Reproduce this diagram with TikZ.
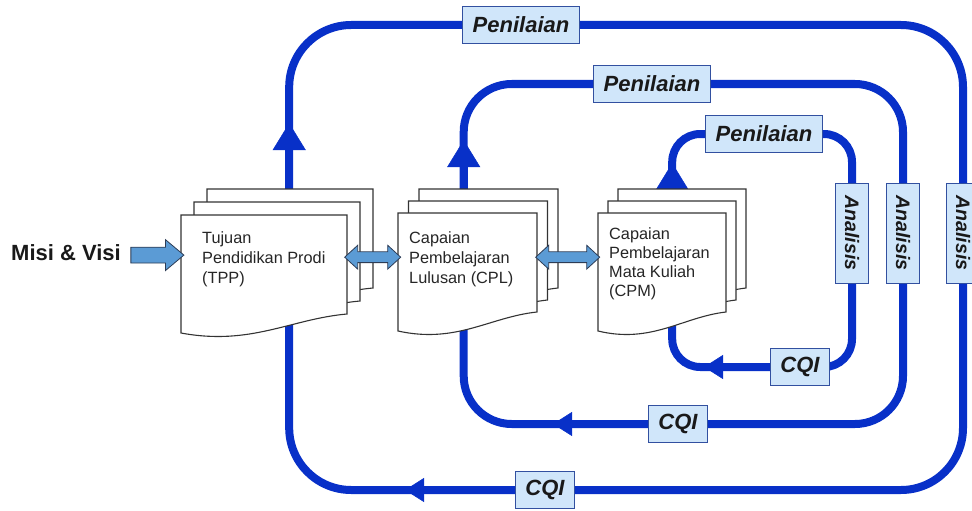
\documentclass[tikz,border=0pt]{standalone}
\usepackage{fontspec}
\setsansfont{Liberation Sans}
\usetikzlibrary{arrows.meta}
\usetikzlibrary{shapes.arrows}
\usetikzlibrary{backgrounds}
\usetikzlibrary{calc}
\definecolor{loopblue}{RGB}{8,48,200}
\definecolor{tagfill}{RGB}{208,230,250}
\definecolor{tagborder}{RGB}{50,80,160}
\definecolor{arrowfill}{RGB}{91,155,213}
\definecolor{arrowline}{RGB}{45,60,85}

\begin{document}
\begin{tikzpicture}[x=1pt,y=-1pt]
\tikzset{
  docline/.style={draw=black!80,line width=1.1pt,fill=white},
  pics/docpage/.style={code={\draw[docline] (0,0) -- (#1,0) -- (#1,99) .. controls ({0.66*#1},104) and ({0.42*#1},131) .. (0,118) -- cycle;}},
  docarea/.style={inner sep=0pt,anchor=north west},
  doctext/.style={anchor=north west,align=left,inner xsep=11pt,inner ysep=16pt,text=black!85,font=\sffamily\fontsize{16.3}{20}\selectfont},
  tag/.style={draw=tagborder,fill=tagfill,line width=1pt,inner xsep=10pt,inner ysep=0pt,minimum height=37pt,text=black!90,font=\sffamily\bfseries\itshape\fontsize{22}{26}\selectfont},
  sidetag/.style={tag,rotate=-90,minimum width=100pt,minimum height=33pt,inner xsep=0pt,font=\sffamily\bfseries\itshape\fontsize{19.5}{22}\selectfont},
  loopline/.style={draw=loopblue,line width=8pt},
  tipup/.style={-{Triangle[length=27pt,width=33pt,line width=0.5pt]}},
  tipleft/.style={-{Triangle[length=19pt,width=24pt,line width=0.5pt]}},
  blockarrow/.style={single arrow,draw=arrowline,fill=arrowfill,line width=0.8pt,inner xsep=0pt,inner ysep=7.5pt,single arrow head extend=7.5pt,single arrow tip angle=80,minimum height=53pt},
  linkarrow/.style={double arrow,draw=arrowline,fill=arrowfill,line width=0.8pt,inner xsep=0pt,inner ysep=5pt,double arrow head extend=6.5pt,double arrow tip angle=85}
}
\useasboundingbox (0,0) rectangle (972,511);

% documents
\foreach \o in {2,1,0}
  \pic at ({181+13*\o},{215-13*\o}) {docpage=166};
\node[docarea,minimum width=166pt,minimum height=84pt] (tpp) at (181,215) {};
\node[doctext,xshift=10pt] (tpptext) at (tpp.north west) {Tujuan\\Pendidikan Prodi\\(TPP)};

\foreach \o in {2,1,0}
  \pic at ({398+10.5*\o},{213-12*\o}) {docpage=139};
\node[docarea,minimum width=139pt,minimum height=88pt] (cpl) at (398,213) {};
\node[doctext,inner ysep=18pt] (cpltext) at (cpl.north west) {Capaian\\Pembelajaran\\Lulusan (CPL)};

\foreach \o in {2,1,0}
  \pic at ({598+10*\o},{213-12*\o}) {docpage=128};
\node[docarea,minimum width=128pt,minimum height=88pt] (cpm) at (598,213) {};
\node[doctext,inner ysep=14pt,font=\sffamily\fontsize{16.3}{19}\selectfont] (cpmtext) at (cpm.north west) {Capaian\\Pembelajaran\\Mata Kuliah\\(CPM)};

% input and links
\node[font=\sffamily\bfseries\fontsize{22}{26}\selectfont,text=black!90] (misi) at (66,253) {Misi \& Visi};
\node[blockarrow] (misiarrow) at ($(misi.east)!0.5!(tpp.west)$) {};
\node[linkarrow,minimum height=56pt] (tppcpl) at ($(tpp.east)!0.5!(cpl.west)$) {};
\node[linkarrow,minimum height=64pt] (cplcpm) at ($(cpl.east)!0.5!(cpm.west)$) {};

% labels on the loops
\node[tag] (pen3) at (521,25) {Penilaian};
\node[tag] (pen2) at (652,84) {Penilaian};
\node[tag] (pen1) at (764,134) {Penilaian};
\node[tag] (cqi1) at (800,367) {CQI};
\node[tag] (cqi2) at (678,424) {CQI};
\node[tag] (cqi3) at (545,490) {CQI};
\node[sidetag] (ana1) at (852,233) {Analisis};
\node[sidetag] (ana2) at (903,233) {Analisis};
\node[sidetag] (ana3) at (963,233) {Analisis};

\coordinate (foot3) at ([xshift=25pt]tpp.center);
\coordinate (foot2) at ([xshift=-4pt]cpl.center);
\coordinate (foot1) at ([xshift=10pt]cpm.center);
\coordinate (up3) at (foot3 |- 0,123);
\coordinate (up2) at (foot2 |- 0,140);
\coordinate (up1) at (foot1 |- 0,163);
\coordinate (left3) at (cqi3 -| 405,0);
\coordinate (left2) at (cqi2 -| 553,0);
\coordinate (left1) at (cqi1 -| 704,0);

% loops
\begin{scope}[on background layer]
\draw[loopline,rounded corners=62pt] (foot3) |- (cqi3.center) -| (ana3.center) |- (pen3.center) -| (foot3);
\draw[loopline,rounded corners=48pt] (foot2) |- (cqi2.center) -| (ana2.center) |- (pen2.center) -| (foot2);
\draw[loopline,rounded corners=28pt] (foot1) |- (cqi1.center) -| (ana1.center) |- (pen1.center) -| (foot1);
\draw[loopline,tipup] (foot3) -- (up3);
\draw[loopline,tipup] (foot2) -- (up2);
\draw[loopline,tipup] (foot1) -- (up1);
\draw[loopline,tipleft] (cqi3.center) -- (left3);
\draw[loopline,tipleft] (cqi2.center) -- (left2);
\draw[loopline,tipleft] (cqi1.center) -- (left1);
\end{scope}
\end{tikzpicture}
\end{document}
